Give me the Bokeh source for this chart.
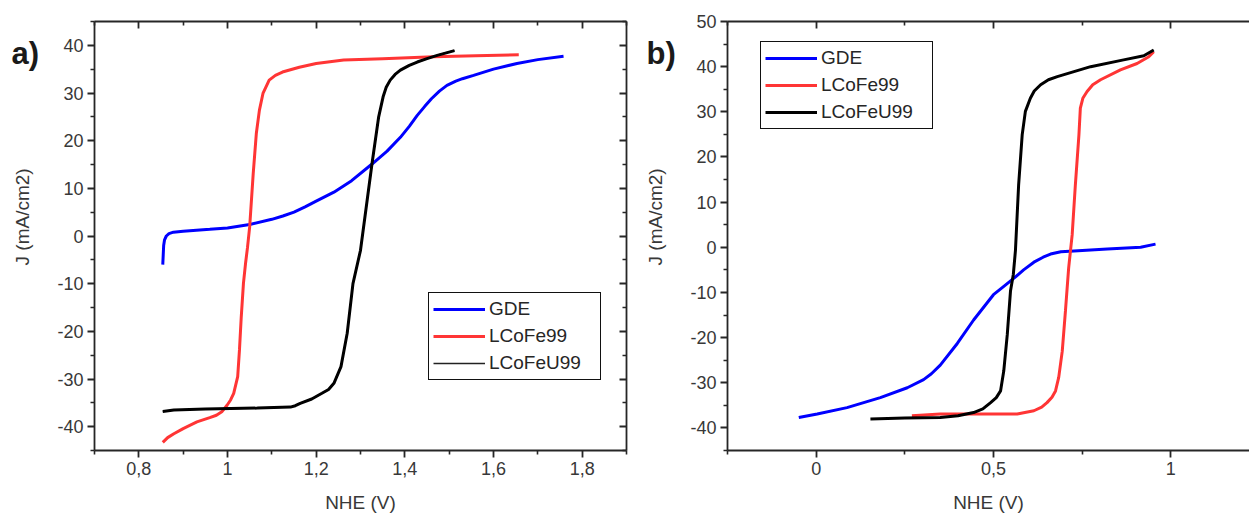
import math
from bokeh.plotting import figure
from bokeh.layouts import row
from bokeh.models import (Range1d, LinearAxis, FixedTicker, CustomJSTickFormatter,
                          Legend, LegendItem, Label)
from bokeh.embed import file_html
from bokeh.resources import INLINE

# ---------------- data: panel a ----------------
a_gde_x = [0.854, 0.855, 0.856, 0.858, 0.862, 0.868, 0.878, 0.90, 0.93, 0.96, 1.00, 1.05, 1.10,
           1.125, 1.15, 1.175, 1.20, 1.24, 1.28, 1.326, 1.36, 1.39, 1.41, 1.428, 1.445, 1.46,
           1.478, 1.495, 1.515, 1.53, 1.555, 1.60, 1.653, 1.70, 1.758]
a_gde_y = [-6.0, -4.0, -2.0, -0.8, 0.0, 0.5, 0.8, 1.0, 1.2, 1.4, 1.7, 2.4, 3.5,
           4.2, 5.0, 6.1, 7.3, 9.2, 11.6, 15.1, 17.8, 20.7, 23.0, 25.3, 27.2, 28.8,
           30.4, 31.6, 32.5, 33.0, 33.7, 35.0, 36.2, 37.0, 37.7]

a_lcofe_x = [0.854, 0.865, 0.879, 0.90, 0.931, 0.96, 0.975, 0.988, 0.999, 1.007, 1.014, 1.023,
             1.027, 1.031, 1.036, 1.041, 1.045, 1.050, 1.058, 1.065, 1.072, 1.080, 1.094,
             1.108, 1.124, 1.162, 1.200, 1.262, 1.35, 1.465, 1.56, 1.657]
a_lcofe_y = [-43.3, -42.3, -41.5, -40.4, -39.0, -38.1, -37.6, -36.8, -35.5, -34.4, -33.0, -29.5,
             -23.9, -17.0, -9.9, -5.5, -2.5, 1.9, 13.1, 21.5, 26.4, 29.9, 32.7,
             33.7, 34.4, 35.4, 36.2, 36.9, 37.2, 37.6, 37.8, 38.0]

a_lcofeu_x = [0.854, 0.879, 0.95, 1.067, 1.142, 1.153, 1.164, 1.19, 1.213, 1.228, 1.240, 1.256,
              1.270, 1.283, 1.300, 1.315, 1.326, 1.341, 1.351, 1.358, 1.367, 1.378, 1.390, 1.41,
              1.428, 1.45, 1.473, 1.512]
a_lcofeu_y = [-36.8, -36.5, -36.3, -36.1, -35.9, -35.6, -35.1, -34.2, -33.0, -32.2, -30.9, -27.4,
              -20.4, -10.0, -3.0, 7.5, 15.2, 25.0, 29.2, 31.2, 32.7, 33.9, 34.8, 35.8,
              36.5, 37.2, 37.9, 38.9]

# ---------------- data: panel b ----------------
b_gde_x = [-0.049, 0.003, 0.087, 0.181, 0.257, 0.303, 0.325, 0.35, 0.398, 0.444, 0.50, 0.53,
           0.557, 0.585, 0.614, 0.64, 0.661, 0.69, 0.727, 0.821, 0.915, 0.957]
b_gde_y = [-37.7, -36.9, -35.5, -33.3, -31.1, -29.3, -28.0, -26.1, -21.3, -16.1, -10.5, -8.6,
           -6.9, -5.0, -3.3, -2.2, -1.5, -1.0, -0.8, -0.4, 0.0, 0.7]

b_lcofe_x = [0.27, 0.35, 0.45, 0.567, 0.614, 0.636, 0.651, 0.665, 0.675, 0.684, 0.694, 0.703,
             0.712, 0.717, 0.722, 0.731, 0.741, 0.745, 0.752, 0.764, 0.78, 0.802, 0.858, 0.905,
             0.938, 0.952]
b_lcofe_y = [-37.3, -36.9, -36.9, -36.9, -36.2, -35.4, -34.4, -33.2, -31.8, -28.8, -23.0, -14.1,
             -4.6, -0.9, 2.8, 13.9, 24.9, 30.8, 33.0, 34.5, 36.0, 37.1, 39.3, 40.7,
             42.2, 43.3]

b_lcofeu_x = [0.153, 0.25, 0.35, 0.40, 0.444, 0.47, 0.492, 0.508, 0.52, 0.529, 0.539, 0.548,
              0.556, 0.562, 0.571, 0.581, 0.590, 0.604, 0.615, 0.633, 0.655, 0.680, 0.774,
              0.867, 0.924, 0.952]
b_lcofeu_y = [-38.0, -37.8, -37.7, -37.3, -36.6, -35.8, -34.4, -33.3, -31.8, -27.4, -19.3, -9.7,
              -6.0, -0.7, 13.9, 24.9, 30.1, 33.0, 34.6, 36.0, 37.1, 37.8, 40.0,
              41.5, 42.4, 43.7]

series_names = ["GDE", "LCoFe99", "LCoFeU99"]
series_colors = ["#0000ff", "#ff3535", "#000000"]

# ---------------- ticks / texts ----------------
a_x_ticks = [0.8, 1.0, 1.2, 1.4, 1.6, 1.8]
a_x_minor = [0.7, 0.9, 1.1, 1.3, 1.5, 1.7, 1.9]
a_y_ticks = [-40, -30, -20, -10, 0, 10, 20, 30, 40]
a_y_minor = [-45, -35, -25, -15, -5, 5, 15, 25, 35, 45]
b_x_ticks = [0.0, 0.5, 1.0]
b_x_minor = [-0.25, 0.25, 0.75, 1.25]
b_y_ticks = [-40, -30, -20, -10, 0, 10, 20, 30, 40, 50]
b_y_minor = [-45, -35, -25, -15, -5, 5, 15, 25, 35, 45]

x_label = "NHE (V)"
y_label = "J (mA/cm2)"
panel_tags = ["a)", "b)"]

FONT = "Liberation Sans"
AX = "#262626"
TXT = "#383838"
H = 517

fmt_code = "return String(Math.round(tick*100)/100).replace('.', ',');"


def style_axis(ax, ticks, minor, inward=False, show_labels=True, label=None, standoff=12):
    ax.ticker = FixedTicker(ticks=ticks, minor_ticks=minor)
    ax.formatter = CustomJSTickFormatter(code=fmt_code)
    ax.axis_line_color = AX
    ax.axis_line_width = 1.8
    ax.major_tick_line_color = AX
    ax.major_tick_line_width = 1.8
    ax.minor_tick_line_color = AX
    ax.minor_tick_line_width = 1.6
    if inward:
        ax.major_tick_in, ax.major_tick_out = 7, 0
        ax.minor_tick_in, ax.minor_tick_out = 4, 0
    else:
        ax.major_tick_in, ax.major_tick_out = 0, 7
        ax.minor_tick_in, ax.minor_tick_out = 0, 4
    ax.major_label_text_font = FONT
    ax.major_label_text_font_size = "18px"
    ax.major_label_standoff = 4
    ax.major_label_text_color = TXT if show_labels else None
    if label:
        ax.axis_label = label
        ax.axis_label_text_font = FONT
        ax.axis_label_text_font_size = "19px"
        ax.axis_label_text_font_style = "normal"
        ax.axis_label_text_color = TXT
        ax.axis_label_standoff = standoff


def make_legend(items, loc):
    leg = Legend(items=items, location=loc)
    leg.border_line_color = "#111111"
    leg.border_line_alpha = 1.0
    leg.border_line_width = 1.8
    leg.background_fill_color = "white"
    leg.background_fill_alpha = 1.0
    leg.padding = 4
    leg.margin = 0
    leg.spacing = 3
    leg.label_height = 24
    leg.glyph_height = 24
    leg.glyph_width = 52
    leg.label_width = 107
    leg.label_standoff = 4
    leg.label_text_font = FONT
    leg.label_text_font_size = "19px"
    leg.label_text_color = "#262626"
    return leg


def side_strip(width, tag, tag_x, label_x):
    """Narrow strip left of a panel, holding the panel tag and the rotated y title."""
    s = figure(width=width, height=H, x_range=Range1d(0, width), y_range=Range1d(0, H),
               output_backend="svg", toolbar_location=None, min_border=0,
               x_axis_location=None, y_axis_location=None)
    s.outline_line_color = None
    s.xgrid.visible = False
    s.ygrid.visible = False
    s.add_layout(Label(x=tag_x, y=H - 18, text=tag, text_font=FONT, text_font_size="31px",
                       text_font_style="bold", text_color="#1a1a1a",
                       text_baseline="top", text_align="left"))
    s.add_layout(Label(x=label_x, y=H - 235.5, text=y_label, angle=math.pi / 2,
                       text_font=FONT, text_font_size="19px", text_color=TXT,
                       text_baseline="middle", text_align="center"))
    return s


# ---------------- panel a ----------------
sa = side_strip(50, panel_tags[0], 11, 22)

pa = figure(width=590, height=H, x_range=Range1d(0.7, 1.9), y_range=Range1d(-45, 45),
            output_backend="svg", toolbar_location=None,
            min_border_left=44, min_border_right=14, min_border_top=21, min_border_bottom=67)
pa.outline_line_color = None
pa.xgrid.visible = False
pa.ygrid.visible = False

thin_black = pa.line(x=a_lcofeu_x, y=a_lcofeu_y, line_color="#222222", line_width=1.5)
ra = []
for xs, ys, c in zip([a_gde_x, a_lcofe_x, a_lcofeu_x], [a_gde_y, a_lcofe_y, a_lcofeu_y], series_colors):
    ra.append(pa.line(x=xs, y=ys, line_color=c, line_width=3))

style_axis(pa.xaxis[0], a_x_ticks, a_x_minor, label=x_label, standoff=14)
style_axis(pa.yaxis[0], a_y_ticks, a_y_minor)
ax_top = LinearAxis()
style_axis(ax_top, a_x_ticks, a_x_minor, inward=True, show_labels=False)
pa.add_layout(ax_top, "above")
ax_right = LinearAxis()
style_axis(ax_right, a_y_ticks, a_y_minor, inward=True, show_labels=False)
pa.add_layout(ax_right, "right")

leg_a = make_legend([LegendItem(label=series_names[0], renderers=[ra[0]]),
                     LegendItem(label=series_names[1], renderers=[ra[1]]),
                     LegendItem(label=series_names[2], renderers=[thin_black])], (334, 70))
pa.add_layout(leg_a)

# ---------------- panel b ----------------
sb = side_strip(45, panel_tags[1], 6, 15)

pb = figure(width=564, height=H, x_range=Range1d(-0.25, 1.222), y_range=Range1d(-45, 50),
            output_backend="svg", toolbar_location=None,
            min_border_left=42, min_border_right=0, min_border_top=21, min_border_bottom=67)
pb.outline_line_color = None
pb.xgrid.visible = False
pb.ygrid.visible = False

rb = []
for xs, ys, c in zip([b_gde_x, b_lcofe_x, b_lcofeu_x], [b_gde_y, b_lcofe_y, b_lcofeu_y], series_colors):
    rb.append(pb.line(x=xs, y=ys, line_color=c, line_width=3))

style_axis(pb.xaxis[0], b_x_ticks, b_x_minor, label=x_label, standoff=14)
style_axis(pb.yaxis[0], b_y_ticks, b_y_minor)
bx_top = LinearAxis()
style_axis(bx_top, b_x_ticks, b_x_minor, inward=True, show_labels=False)
pb.add_layout(bx_top, "above")

leg_b = make_legend([LegendItem(label=n, renderers=[r]) for n, r in zip(series_names, rb)], (33, 321))
pb.add_layout(leg_b)

layout = row(sa, pa, sb, pb)
open("out.html", "w").write(file_html(layout, INLINE))
